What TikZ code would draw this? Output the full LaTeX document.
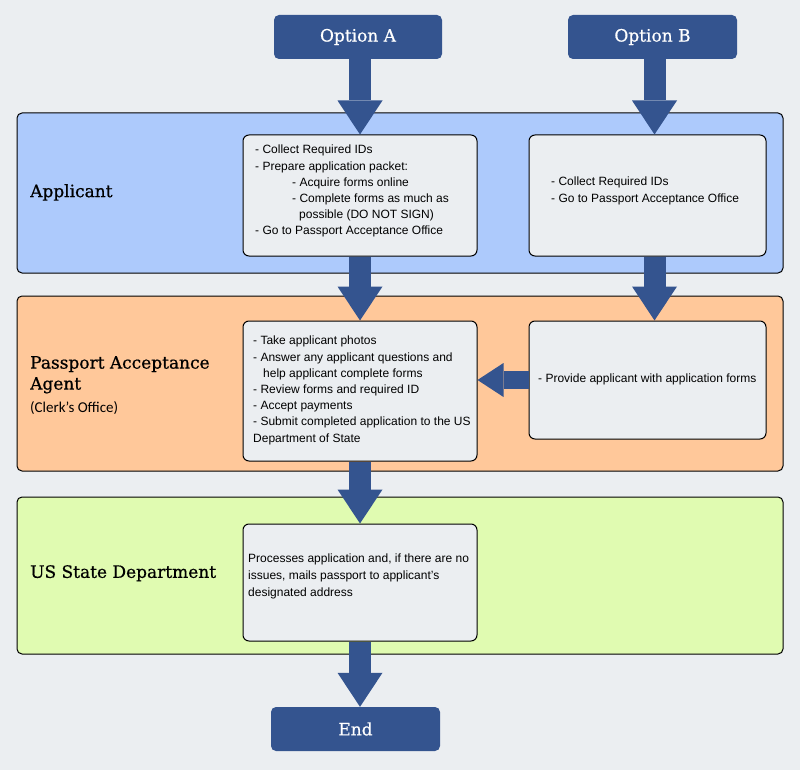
\documentclass[tikz,border=0pt]{standalone}
\usepackage{fontspec}
\setmainfont{Liberation Sans}
\newfontfamily\headfont[FakeBold=0.7]{DejaVu Serif}
\newfontfamily\calfont{Carlito}
\usetikzlibrary{arrows.meta,calc}
\definecolor{bg}{HTML}{EBEEF1}
\definecolor{navy}{HTML}{34548F}
\definecolor{laneA}{HTML}{ADCAFC}
\definecolor{laneP}{HTML}{FFC89A}
\definecolor{laneU}{HTML}{E0FBB1}
\definecolor{boxfill}{HTML}{EBEEF1}
\begin{document}
\begin{tikzpicture}[x=1pt,y=-1pt,
  lane/.style={draw=black, line width=1pt, rounded corners=5pt, inner sep=0pt, minimum width=766pt},
  stepbox/.style={draw=black, fill=boxfill, line width=1pt, rounded corners=6pt, inner sep=0pt},
  termbox/.style={fill=navy, rounded corners=5pt, inner sep=0pt, text=white, minimum height=44pt,
    font=\headfont\fontsize{17}{20}\selectfont},
  lanelabel/.style={font=\headfont\fontsize{17}{21}\selectfont, anchor=north west, inner sep=0pt, align=left},
  body/.style={font=\fontsize{12}{16.2}\selectfont, anchor=north west, inner sep=0pt, align=left},
  bigarrow/.style={draw=navy, line width=22pt, -{Triangle[width=45pt,length=34pt,line width=0pt]}},
  smallarrow/.style={draw=navy, line width=18pt, -{Triangle[width=34pt,length=26pt,line width=0pt]}}
]
\useasboundingbox[fill=bg] (0,0) rectangle (800,770);

% lanes
\node[lane, fill=laneA, minimum height=160pt] (laneApp) at (400,193) {};
\node[lane, fill=laneP, minimum height=175pt] (lanePAA) at (400,383.5) {};
\node[lane, fill=laneU, minimum height=157pt] (laneUS) at (400,575.5) {};

% lane labels
\node[lanelabel] (lblApp) at (30,184) {Applicant};
\node[lanelabel] (lblPAA) at (30,356) {Passport Acceptance\\Agent};
\node[font=\calfont\fontsize{15}{18}\selectfont, anchor=base west, inner sep=0pt] (lblClerk) at (30,412) {(Clerk’s Office)};
\node[lanelabel] (lblUS) at (30,565) {US State Department};

% terminals
\node[termbox, minimum width=168pt] (optA) at (358,37) {Option A};
\node[termbox, minimum width=169pt] (optB) at (652.5,37) {Option B};
\node[termbox, minimum width=169pt] (endT) at (355.5,729) {End};

% step boxes
\node[stepbox, minimum width=234pt, minimum height=121pt] (A1) at (360,195.5) {};
\node[stepbox, minimum width=237pt, minimum height=121pt] (B1) at (647.5,195.5) {};
\node[stepbox, minimum width=234pt, minimum height=140pt] (A2) at (360,391) {};
\node[stepbox, minimum width=237pt, minimum height=118pt] (B2) at (647.5,380) {};
\node[stepbox, minimum width=234pt, minimum height=117pt] (A3) at (360,582.5) {};

% texts
\node[body] (tA1) at (255,145) {- Collect Required IDs\\
- Prepare application packet:\\
\hspace*{37pt}- Acquire forms online\\
\hspace*{37pt}- Complete forms as much as\\
\hspace*{44pt}possible (DO NOT SIGN)\\
- Go to Passport Acceptance Office};
\node[body] (tB1) at (551,177) {- Collect Required IDs\\
- Go to Passport Acceptance Office};
\node[body] (tA2) at (253,336) {- Take applicant photos\\
- Answer any applicant questions and\\
\hspace*{10pt}help applicant complete forms\\
- Review forms and required ID\\
- Accept payments\\
- Submit completed application to the US\\
Department of State};
\node[body] (tB2) at (538,374) {- Provide applicant with application forms};
\node[body, font=\fontsize{12}{16.6}\selectfont] (tA3) at (248,554) {Processes application and, if there are no\\
issues, mails passport to applicant’s\\
designated address};

% arrows
\draw[bigarrow] (optA.south -| A1.north) -- (A1.north);
\draw[bigarrow] ($(optB.south)+(2,0)$) -- ($(B1.north)+(7,0)$);
\draw[bigarrow] (A1.south) -- (A2.north);
\draw[bigarrow] ($(B1.south)+(7,0)$) -- ($(B2.north)+(7,0)$);
\draw[smallarrow] (B2.west) -- (A2.east |- B2.west);
\draw[bigarrow] (A2.south) -- (A3.north);
\draw[bigarrow] (A3.south) -- (A3.south |- endT.north);
\end{tikzpicture}
\end{document}
